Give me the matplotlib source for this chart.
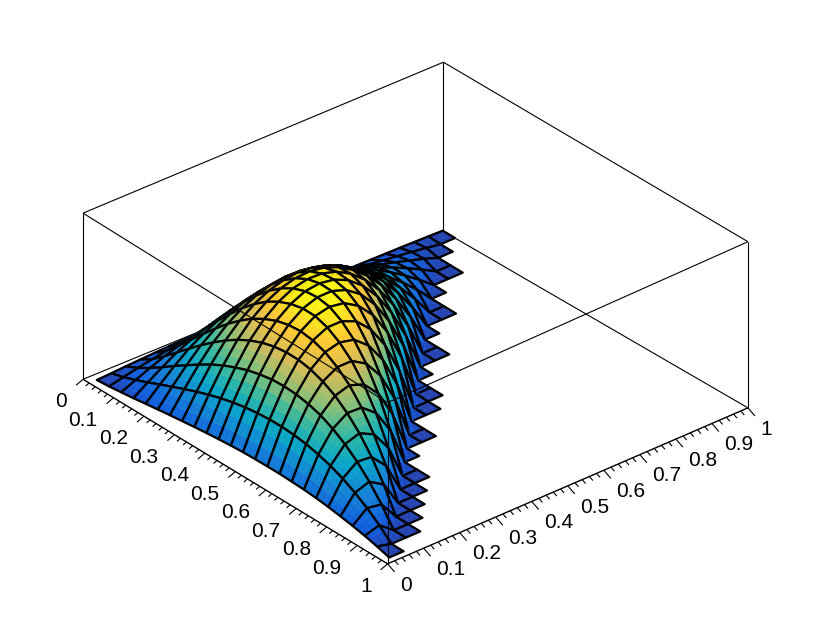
import numpy as np
import matplotlib
matplotlib.use("Agg")
import matplotlib.pyplot as plt
from matplotlib.colors import LinearSegmentedColormap
from mpl_toolkits.mplot3d import proj3d
from mpl_toolkits.mplot3d.art3d import Poly3DCollection

plt.rcParams['font.family'] = ['Liberation Sans', 'DejaVu Sans']

# surface height in percent of the box, one list per x node
z_rows = [
    [0.2, 0.5, 0.9, 1.2, 1.5, 1.7, 2.0, 2.1, 2.3, 2.3, 2.3, 2.4, 2.3, 2.2, 2.2, 2.1, 1.9, 1.7, 1.5, 1.3, 1.1, 0.9, 0.6, 0.3],
    [0.8, 2.6, 4.4, 5.9, 7.3, 8.4, 9.4, 10.0, 10.6, 10.9, 11.1, 10.9, 10.7, 10.4, 9.9, 9.3, 8.4, 7.5, 6.5, 5.3, 4.1, 2.9, 1.5, 0.0],
    [1.7, 5.3, 8.8, 12.1, 14.7, 16.8, 18.6, 20.0, 20.9, 21.4, 21.4, 21.3, 20.7, 19.8, 18.6, 17.0, 15.2, 13.3, 11.0, 8.6, 5.9, 3.2, 0.0],
    [2.6, 8.3, 13.7, 18.8, 22.7, 26.0, 28.5, 30.4, 31.4, 32.0, 32.0, 31.3, 30.3, 28.6, 26.5, 23.9, 20.9, 17.5, 13.6, 9.5, 4.9, 0.0],
    [3.7, 11.5, 18.9, 25.5, 30.7, 34.9, 38.1, 40.2, 41.5, 42.0, 41.5, 40.4, 38.5, 35.9, 32.6, 28.7, 24.2, 19.0, 13.3, 6.9, 0.0],
    [4.7, 14.6, 23.8, 32.1, 38.4, 43.3, 46.9, 49.3, 50.5, 50.6, 49.6, 47.7, 44.8, 41.0, 36.4, 30.9, 24.5, 17.2, 9.1, 0.0],
    [5.7, 17.6, 28.6, 38.2, 45.6, 51.3, 55.3, 57.8, 59.0, 58.7, 57.1, 54.5, 50.4, 45.2, 38.8, 31.2, 22.1, 11.8, 0.0],
    [6.6, 20.5, 33.1, 43.8, 52.0, 58.2, 62.4, 65.0, 65.9, 65.1, 62.8, 58.9, 53.5, 46.5, 37.8, 27.2, 14.7, 0.0],
    [7.5, 23.1, 37.0, 48.7, 57.6, 64.1, 68.4, 70.7, 71.1, 69.6, 66.1, 60.7, 53.4, 43.9, 31.9, 17.4, 0.0],
    [8.3, 25.4, 40.2, 52.7, 61.9, 68.5, 72.8, 74.6, 74.2, 71.6, 66.6, 59.2, 49.2, 36.2, 20.0, 0.0],
    [9.0, 27.3, 43.0, 55.8, 65.2, 71.6, 75.5, 76.5, 75.0, 70.9, 63.8, 53.7, 40.0, 22.3, 0.0],
    [9.6, 28.8, 44.9, 57.9, 67.2, 73.3, 76.3, 76.3, 73.2, 66.9, 56.9, 42.9, 24.3, 0.0],
    [10.1, 29.8, 46.3, 58.9, 67.8, 73.2, 75.0, 73.5, 68.1, 58.9, 45.0, 25.7, 0.0],
    [10.3, 30.4, 46.7, 58.8, 66.7, 70.8, 70.8, 67.0, 58.5, 45.2, 26.0, 0.0],
    [10.4, 30.5, 46.2, 57.4, 64.1, 66.2, 64.1, 57.0, 44.6, 26.0, 0.0],
    [10.4, 30.0, 44.8, 54.6, 59.5, 59.5, 54.2, 43.1, 25.4, 0.0],
    [10.1, 28.9, 42.5, 50.5, 53.1, 49.8, 40.6, 24.3, 0.0],
    [9.8, 27.1, 38.8, 44.5, 44.1, 37.1, 22.9, 0.0],
    [9.1, 24.7, 34.0, 36.8, 32.5, 20.7, 0.0],
    [8.2, 21.5, 27.9, 27.0, 18.0, 0.0],
    [7.0, 17.4, 20.3, 14.9, 0.0],
    [5.7, 12.6, 11.1, 0.0],
    [4.1, 6.8, 0.0],
    [2.2, 0.0],
    [0.0],
]
# how many cells each x strip has along y, the edge of the surface is a rough staircase
n_cells = [24, 23, 22, 22, 20, 19, 19, 17, 16, 16, 14, 13, 13, 12, 10, 10, 8, 7, 7, 6, 5, 4, 3, 1]

x_nodes = np.linspace(0.02, 0.98, 25)
y_nodes = np.linspace(0.02, 0.98, 25)
tick_labels = ['0', '0.1', '0.2', '0.3', '0.4', '0.5', '0.6', '0.7', '0.8', '0.9', '1']

bird = LinearSegmentedColormap.from_list('bird', [
    (0.2082, 0.1664, 0.5293), (0.0592, 0.3599, 0.8684), (0.0780, 0.5041, 0.8385),
    (0.0232, 0.6419, 0.7914), (0.1802, 0.7178, 0.6425), (0.5301, 0.7492, 0.4662),
    (0.8186, 0.7328, 0.3499), (0.9956, 0.7862, 0.1968), (0.9764, 0.9832, 0.0539)])
zmax = 76.5


def node(i, j):
    if i < len(z_rows) and j < len(z_rows[i]):
        return z_rows[i][j]
    return 0.0


fig = plt.figure(figsize=(8.3, 6.27), dpi=100)
ax = fig.add_axes([126.9 / 830, 27.9 / 627, 562 / 830, 562 / 627], projection='3d', proj_type='ortho')
ax.computed_zorder = False
ax.view_init(elev=30.8, azim=-40.2)
ax.set_box_aspect((1, 1, 0.41), zoom=1.2)
ax.set_xlim(0, 1)
ax.set_ylim(0, 1)
ax.set_zlim(0, 100)
ax.set_axis_off()


def line(xs, ys, zs, lw=0.8, zorder=1):
    ax.plot(xs, ys, zs, color='black', lw=lw, zorder=zorder, clip_on=False, solid_capstyle='butt')


# the box in the reference is not quite a parallelepiped, so two corners sit a bit lower
back_floor = -4.8
back_top = 97
front_top = 97

# back of the box
line([0, 0], [0, 1], [0, back_floor])
line([0, 1], [1, 1], [back_floor, 0])
line([0, 0], [0, 0], [0, 100])
line([0, 0], [1, 1], [back_floor, back_top])
line([1, 1], [1, 1], [0, 100])
line([0, 0], [0, 1], [100, back_top])
line([0, 1], [1, 1], [back_top, 100])

# surface cells, back to front, each one split for the colour bands
sub = 3
order = 10
for i in range(len(n_cells)):
    for j in range(n_cells[i] - 1, -1, -1):
        x0, x1 = x_nodes[i], x_nodes[i + 1]
        y0, y1 = y_nodes[j], y_nodes[j + 1]
        z00, z10 = node(i, j), node(i + 1, j)
        z01, z11 = node(i, j + 1), node(i + 1, j + 1)
        quads = []
        cols = []
        for a in range(sub):
            for b in range(sub):
                ss = np.array([a, a + 1, a + 1, a]) / sub
                tt = np.array([b, b, b + 1, b + 1]) / sub
                px = x0 + (x1 - x0) * ss
                py = y0 + (y1 - y0) * tt
                pz = z00 * (1 - ss) * (1 - tt) + z10 * ss * (1 - tt) + z01 * (1 - ss) * tt + z11 * ss * tt
                quads.append(list(zip(px, py, pz)))
                # the flat parts of the reference are already a bit past the darkest colour
                cols.append(bird(0.06 + 0.94 * pz.mean() / zmax))
        fill = Poly3DCollection(quads, facecolors=cols, edgecolors=cols, linewidths=0.3,
                                zorder=order, clip_on=False)
        ax.add_collection3d(fill)
        edge = Poly3DCollection([[(x0, y0, z00), (x1, y0, z10), (x1, y1, z11), (x0, y1, z01)]],
                                facecolors=(0, 0, 0, 0), edgecolors='black', linewidths=1.6,
                                zorder=order + 1, clip_on=False)
        ax.add_collection3d(edge)
        order += 2

# front of the box, over the surface
top = order + 1
line([0, 1], [0, 0], [100, front_top], zorder=top)
line([1, 1], [0, 1], [front_top, 100], zorder=top)
line([1, 1], [0, 0], [0, front_top], zorder=top)
line([0, 1], [0, 0], [0, 0], lw=1.0, zorder=top)
line([1, 1], [0, 1], [0, 0], lw=1.0, zorder=top)

# ticks and labels
for k in range(51):
    t = k / 50
    major = k % 5 == 0
    scale = 1.0 if major else 0.5
    line([t, t], [0, -0.0194 * scale], [0, -1.8 * scale], lw=0.8, zorder=top)
    line([1, 1 + 0.023 * scale], [t, t], [0, -2.3 * scale], lw=0.8, zorder=top)

M = ax.get_proj()
for k, label in enumerate(tick_labels):
    t = k / 10
    u, v, _ = proj3d.proj_transform(t, -0.044, -9.5, M)
    ax.text2D(u, v, label, transform=ax.transData, ha='right', va='center', fontsize=15, zorder=top)
    u, v, _ = proj3d.proj_transform(1.04, t, -8.4, M)
    ax.text2D(u, v, label, transform=ax.transData, ha='left', va='center', fontsize=15, zorder=top)

fig.savefig('out.png', dpi=100)
